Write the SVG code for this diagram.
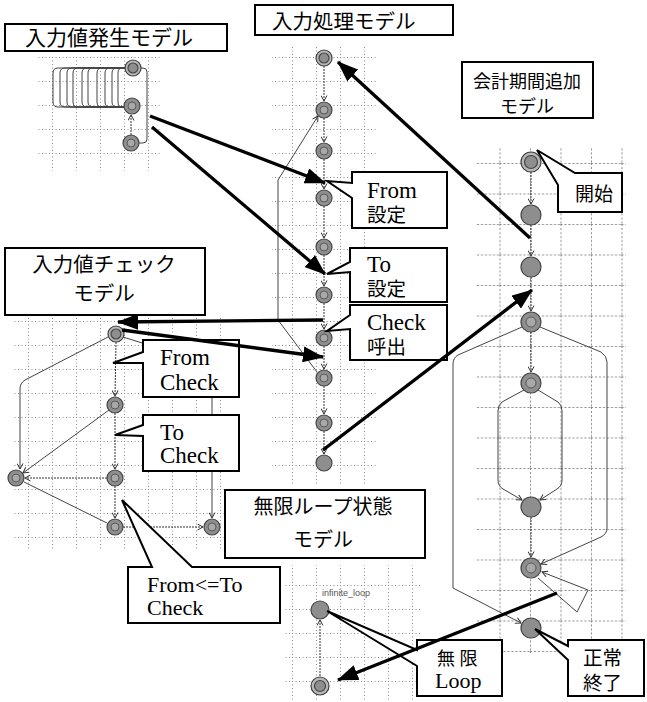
<svg xmlns="http://www.w3.org/2000/svg" width="647" height="702" viewBox="0 0 647 702">
<defs>
<pattern id="g24" width="24" height="24" patternUnits="userSpaceOnUse" x="4" y="9"><path d="M0,0.5H24M0.5,0V24" stroke="#8a8a8a" stroke-width="1" stroke-dasharray="1 2.5" fill="none"/></pattern>
<pattern id="g30" width="30.5" height="30.5" patternUnits="userSpaceOnUse" x="530" y="163"><path d="M0,0.5H30.5M0.5,0V30.5" stroke="#8a8a8a" stroke-width="1" stroke-dasharray="2 2" fill="none"/></pattern>
<marker id="big" markerWidth="22" markerHeight="16" refX="20" refY="8" orient="auto" markerUnits="userSpaceOnUse"><path d="M0,0 L21,8 L0,16 Z" fill="#000"/></marker>
<marker id="sm" markerWidth="7" markerHeight="7" refX="6" refY="3.5" orient="auto" markerUnits="userSpaceOnUse"><path d="M0.5,0.5 L6,3.5 L0.5,6.5" fill="none" stroke="#333" stroke-width="1"/></marker>
</defs>
<style>
.grid{fill:url(#g24)}
.grid30{fill:url(#g30)}
.box{fill:#fff;stroke:#000;stroke-width:2}
.ttl{font-family:"Noto Sans CJK JP","Noto Sans",sans-serif;fill:#000}
.ser{font-family:"Liberation Serif","Noto Sans CJK JP",serif;fill:#000}
.nd{fill:#8e8e8e;stroke:#454545;stroke-width:1.2}
.in{fill:#a8a8a8;stroke:#5a5a5a;stroke-width:1}
.st{fill:#b8b8b8;stroke:#404040;stroke-width:1.2}
.thin{fill:none;stroke:#444;stroke-width:1}
.dot{fill:none;stroke:#333;stroke-width:1;stroke-dasharray:2 1}
.thick{fill:none;stroke:#000;stroke-width:3.3;marker-end:url(#big)}
</style>
<rect width="647" height="702" fill="#fff"/>
<g id="grids">
<rect class="grid" x="38" y="56" width="123" height="115"/>
<rect class="grid" x="272" y="45" width="105" height="440"/>
<rect class="grid" x="12" y="318" width="228" height="232"/>
<rect class="grid30" x="476" y="148" width="150" height="505"/>
<rect class="grid" x="285" y="565" width="135" height="137"/>
</g>
<g id="connectors">
<g id="gen-edges">
<path class="thin" d="M125,68 H58 Q53,68 53,73 V102 Q53,107 58,107 H124"/>
<path class="thin" d="M125,68 H65 Q60,68 60,73 V102 Q60,107 65,107 H124"/>
<path class="thin" d="M125,68 H72 Q67,68 67,73 V102 Q67,107 72,107 H124"/>
<path class="thin" d="M125,68 H78 Q73,68 73,73 V102 Q73,107 78,107 H124"/>
<path class="thin" d="M125,68 H87 Q82,68 82,73 V102 Q82,107 87,107 H124"/>
<path class="thin" d="M125,68 H93 Q88,68 88,73 V102 Q88,107 93,107 H124"/>
<path class="thin" d="M125,68 H102 Q97,68 97,73 V102 Q97,107 102,107 H124"/>
<path class="thin" d="M125,68 H110 Q105,68 105,73 V102 Q105,107 110,107 H124"/>
<path class="thin" d="M125,68 H117 Q112,68 112,73 V102 Q112,107 117,107 H124"/>
<path class="thin" d="M125,68 H122 Q118,68 118,73 V102 Q118,107 122,107 H124" marker-start="url(#sm)"/>
<path class="thin" d="M141,68 H143 Q147,68 147,72 V139 Q147,143 143,143 H139"/>
<line class="dot" x1="131" y1="135" x2="131" y2="115" marker-end="url(#sm)"/>
</g>
<g id="mid-edges">
<line class="dot" x1="324" y1="66" x2="324" y2="101" marker-end="url(#sm)"/>
<line class="dot" x1="324" y1="118" x2="324" y2="142" marker-end="url(#sm)"/>
<line class="dot" x1="324" y1="159" x2="324" y2="189" marker-end="url(#sm)"/>
<line class="dot" x1="324" y1="206" x2="324" y2="238" marker-end="url(#sm)"/>
<line class="dot" x1="324" y1="255" x2="324" y2="286" marker-end="url(#sm)"/>
<line class="dot" x1="324" y1="303" x2="324" y2="329" marker-end="url(#sm)"/>
<line class="dot" x1="324" y1="346" x2="324" y2="369" marker-end="url(#sm)"/>
<line class="dot" x1="324" y1="386" x2="324" y2="414" marker-end="url(#sm)"/>
<line class="dot" x1="324" y1="431" x2="324" y2="454" marker-end="url(#sm)"/>
<path class="thin" d="M317,372 L278,320 V180 L318,116" marker-end="url(#sm)"/>
</g>
<g id="check-edges">
<line class="dot" x1="116" y1="342" x2="115" y2="396" marker-end="url(#sm)"/>
<line class="dot" x1="115" y1="413" x2="115" y2="469" marker-end="url(#sm)"/>
<line class="dot" x1="115" y1="486" x2="115" y2="518" marker-end="url(#sm)"/>
<path class="thin" d="M108,337 L25,380 Q20,383 20,389 V469" marker-end="url(#sm)"/>
<line class="thin" x1="109" y1="410" x2="23" y2="473" marker-end="url(#sm)"/>
<line class="dot" x1="107" y1="478" x2="25" y2="478" marker-end="url(#sm)"/>
<line class="thin" x1="24" y1="482" x2="107" y2="523"/>
<line class="dot" x1="123" y1="527" x2="203" y2="527" marker-end="url(#sm)"/>
<path class="thin" d="M123,337 L190,358 Q212,365 212,380 V518" marker-end="url(#sm)"/>
</g>
<g id="right-edges">
<line class="dot" x1="531" y1="172" x2="531" y2="204" marker-end="url(#sm)"/>
<line class="dot" x1="531" y1="225" x2="531" y2="256" marker-end="url(#sm)"/>
<line class="dot" x1="531" y1="277" x2="531" y2="311" marker-end="url(#sm)"/>
<line class="dot" x1="531" y1="332" x2="531" y2="372" marker-end="url(#sm)"/>
<path class="thin" d="M524,390 L502,402 Q498,405 498,411 V480 Q498,486 503,489 L522,500" marker-end="url(#sm)"/>
<path class="thin" d="M538,390 L558,402 Q562,405 562,411 V480 Q562,486 557,489 L540,500" marker-end="url(#sm)"/>
<line class="dot" x1="531" y1="517" x2="531" y2="557" marker-end="url(#sm)"/>
<path class="thin" d="M522,327 L458,355 Q453,358 453,364 V588 L521,623" marker-end="url(#sm)"/>
<path class="thin" d="M540,327 L601,352 Q607,356 607,362 V528 Q607,534 601,537 L541,564" marker-end="url(#sm)"/>
<path class="thin" d="M538,578 L577,612 L588,590 L542,572" marker-end="url(#sm)"/>
</g>
<g id="inf-edges">
<line class="dot" x1="320" y1="679" x2="320" y2="620" marker-end="url(#sm)"/>
</g>
</g>
<g id="nodes">
<g id="n-gen1"><circle class="st" cx="133" cy="68" r="8"/><circle class="nd" cx="133" cy="68" r="5"/></g>
<g id="n-gen2"><circle class="nd" cx="132" cy="106" r="8"/><circle class="in" cx="132" cy="106" r="4"/></g>
<g id="n-gen3"><circle class="nd" cx="131" cy="143" r="8"/><circle class="in" cx="131" cy="143" r="4"/></g>
<g id="n-m1"><circle class="st" cx="324" cy="58" r="8"/><circle class="nd" cx="324" cy="58" r="5"/></g>
<g id="n-m2"><circle class="nd" cx="324" cy="110" r="8"/><circle class="in" cx="324" cy="110" r="4"/></g>
<g id="n-m3"><circle class="nd" cx="324" cy="151" r="8"/><circle class="in" cx="324" cy="151" r="4"/></g>
<g id="n-m4"><circle class="nd" cx="324" cy="198" r="8"/><circle class="in" cx="324" cy="198" r="4"/></g>
<g id="n-m5"><circle class="nd" cx="324" cy="247" r="8"/><circle class="in" cx="324" cy="247" r="4"/></g>
<g id="n-m6"><circle class="nd" cx="324" cy="295" r="8"/><circle class="in" cx="324" cy="295" r="4"/></g>
<g id="n-m7"><circle class="nd" cx="324" cy="338" r="8"/><circle class="in" cx="324" cy="338" r="4"/></g>
<g id="n-m8"><circle class="nd" cx="324" cy="378" r="8"/><circle class="in" cx="324" cy="378" r="4"/></g>
<g id="n-m9"><circle class="nd" cx="324" cy="423" r="8"/><circle class="in" cx="324" cy="423" r="4"/></g>
<g id="n-m10"><circle class="nd" cx="324" cy="463" r="8"/></g>
<g id="n-c1"><circle class="st" cx="116" cy="334" r="8"/><circle class="nd" cx="116" cy="334" r="5"/></g>
<g id="n-c2"><circle class="nd" cx="115" cy="405" r="8"/><circle class="in" cx="115" cy="405" r="4"/></g>
<g id="n-c3"><circle class="nd" cx="115" cy="478" r="8"/><circle class="in" cx="115" cy="478" r="4"/></g>
<g id="n-cl"><circle class="nd" cx="16" cy="478" r="8"/><circle class="in" cx="16" cy="478" r="4"/></g>
<g id="n-c4"><circle class="nd" cx="115" cy="527" r="8"/><circle class="in" cx="115" cy="527" r="4"/></g>
<g id="n-c5"><circle class="nd" cx="212" cy="527" r="8"/><circle class="in" cx="212" cy="527" r="4"/></g>
<g id="n-r1"><circle class="st" cx="531" cy="162" r="10"/><circle class="nd" cx="531" cy="162" r="6.5"/></g>
<g id="n-r2"><circle class="nd" cx="531" cy="215" r="10"/></g>
<g id="n-r3"><circle class="nd" cx="531" cy="267" r="10"/></g>
<g id="n-r4"><circle class="nd" cx="531" cy="322" r="10"/><circle class="in" cx="531" cy="322" r="5"/></g>
<g id="n-r5"><circle class="nd" cx="531" cy="383" r="10"/><circle class="in" cx="531" cy="383" r="5"/></g>
<g id="n-r6"><circle class="nd" cx="531" cy="507" r="10"/></g>
<g id="n-r7"><circle class="nd" cx="531" cy="568" r="10"/><circle class="in" cx="531" cy="568" r="5"/></g>
<g id="n-rend"><circle class="nd" cx="531" cy="628" r="10"/></g>
<g id="n-i1"><circle class="nd" cx="320" cy="610" r="9"/><text x="346" y="596" font-family="Liberation Sans,sans-serif" font-size="9" fill="#555" text-anchor="middle">infinite_loop</text></g>
<g id="n-i2"><circle class="st" cx="320" cy="686" r="9"/><circle class="nd" cx="320" cy="686" r="5.5"/></g>
</g>
<g id="titles">
<g id="t-gen"><rect class="box" x="5" y="24" width="222" height="27"/><text class="ttl" x="25" y="45" font-size="21">入力値発生モデル</text></g>
<g id="t-mid"><rect class="box" x="255" y="5" width="198" height="30"/><text class="ttl" x="272" y="29" font-size="20.5">入力処理モデル</text></g>
<g id="t-acc"><rect class="box" x="462" y="62" width="131" height="56"/><text class="ttl" x="527" y="88" font-size="18" text-anchor="middle">会計期間追加</text><text class="ttl" x="527" y="113" font-size="18" text-anchor="middle">モデル</text></g>
<g id="t-chk"><rect class="box" x="5" y="248" width="200" height="67"/><text class="ttl" x="104" y="272" font-size="20.5" text-anchor="middle">入力値チェック</text><text class="ttl" x="104" y="301" font-size="20.5" text-anchor="middle">モデル</text></g>
<g id="t-inf"><rect class="box" x="225" y="490" width="200" height="68"/><text class="ttl" x="323" y="514" font-size="20" text-anchor="middle">無限ループ状態</text><text class="ttl" x="323" y="547" font-size="20" text-anchor="middle">モデル</text></g>
</g>
<g id="callouts">
<g id="k-from"><path class="box" d="M352,172 H447 V228 H352 V198 L327,181 L352,183 Z"/><text class="ser" x="367" y="198" font-size="23">From</text><text class="ser" x="367" y="222" font-size="19.5">設定</text></g>
<g id="k-to"><path class="box" d="M350,248 H447 V302 H350 V272 L327,274 L350,262 Z"/><text class="ser" x="367" y="272" font-size="23">To</text><text class="ser" x="367" y="296" font-size="19.5">設定</text></g>
<g id="k-call"><path class="box" d="M350,305 H447 V360 H350 V329 L327,331 L350,315 Z"/><text class="ser" x="367" y="330" font-size="23">Check</text><text class="ser" x="367" y="354" font-size="19.5">呼出</text></g>
<g id="k-start"><path class="box" d="M575,173 H622 V212 H558 V185 L537,150 Z"/><text class="ser" x="575" y="201" font-size="19">開始</text></g>
<g id="k-fc"><path class="box" d="M143,340 H239 V397 H143 V363 L113,363 L143,352 Z"/><text class="ser" x="160" y="365" font-size="23">From</text><text class="ser" x="160" y="390" font-size="23">Check</text></g>
<g id="k-tc"><path class="box" d="M143,415 H239 V471 H143 V436 L115,435 L143,425 Z"/><text class="ser" x="160" y="440" font-size="23">To</text><text class="ser" x="160" y="463" font-size="23">Check</text></g>
<g id="k-ftc"><path class="box" d="M128,567 H152 L122,500 L192,567 H280 V623 H128 Z"/><text class="ser" x="147" y="592" font-size="22">From&lt;=To</text><text class="ser" x="147" y="615" font-size="22">Check</text></g>
<g id="k-loop"><path class="box" d="M417,640 H502 V696 H417 V666 L327,611 L417,650 Z"/><text class="ser" x="437" y="665" font-size="18">無 限</text><text class="ser" x="435" y="688" font-size="22">Loop</text></g>
<g id="k-end"><path class="box" d="M568,640 H644 V696 H568 V660 L535,629 L568,646 Z"/><text class="ser" x="583" y="665" font-size="19.5">正常</text><text class="ser" x="583" y="690" font-size="19.5">終了</text></g>
</g>
<g id="arrows">
<line class="thick" x1="150" y1="116" x2="325" y2="183"/>
<line class="thick" x1="152" y1="127" x2="325" y2="274"/>
<line class="thick" x1="530" y1="238" x2="338" y2="62"/>
<line class="thick" x1="323" y1="450" x2="532" y2="290"/>
<line class="thick" x1="323" y1="320" x2="118" y2="322"/>
<line class="thick" x1="122" y1="330" x2="323" y2="357"/>
<line class="thick" x1="557" y1="593" x2="338" y2="680"/>
</g>
</svg>
